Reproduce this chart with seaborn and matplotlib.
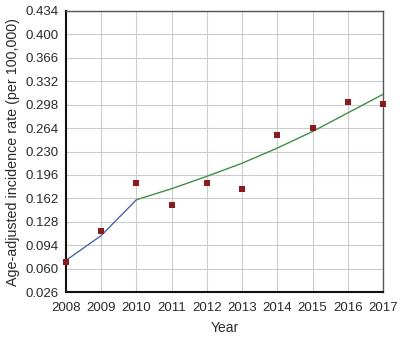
import matplotlib
matplotlib.use("Agg")
import matplotlib.pyplot as plt
import seaborn as sns
import pandas as pd

years = [2008, 2009, 2010, 2011, 2012, 2013, 2014, 2015, 2016, 2017]
observed = [0.069, 0.114, 0.185, 0.152, 0.184, 0.176, 0.254, 0.264, 0.302, 0.299]

seg1_years = [2008, 2009, 2010]
seg1_fit = [0.072, 0.108, 0.160]
seg2_years = [2010, 2011, 2012, 2013, 2014, 2015, 2016, 2017]
seg2_fit = [0.160, 0.176, 0.194, 0.213, 0.235, 0.259, 0.286, 0.313]

yticks = [0.026, 0.060, 0.094, 0.128, 0.162, 0.196, 0.230, 0.264, 0.298, 0.332, 0.366, 0.400, 0.434]

sns.set_theme(style="white")
plt.rcParams['font.family'] = ['Liberation Sans', 'DejaVu Sans']

fig = plt.figure(figsize=(4.0, 3.38), dpi=100)
ax = fig.add_axes([0.165, 0.136, 0.7925, 0.8315])

df_obs = pd.DataFrame({"Year": years, "Rate": observed})
df1 = pd.DataFrame({"Year": seg1_years, "Rate": seg1_fit})
df2 = pd.DataFrame({"Year": seg2_years, "Rate": seg2_fit})

sns.lineplot(data=df1, x="Year", y="Rate", ax=ax, color="#4f63a6", linewidth=1.0, zorder=3)
sns.lineplot(data=df2, x="Year", y="Rate", ax=ax, color="#3f8f45", linewidth=1.0, zorder=3)
sns.scatterplot(data=df_obs, x="Year", y="Rate", ax=ax, marker="s", s=22,
                color="#8b1a1f", edgecolor="#8b1a1f", linewidth=0, zorder=4, clip_on=False)

ax.set_xlim(2008, 2017)
ax.set_ylim(0.026, 0.434)
ax.set_xticks(years)
ax.set_xticklabels([str(y) for y in years])
ax.set_yticks(yticks)
ax.set_yticklabels([f"{v:.3f}" for v in yticks])
ax.grid(True, color="#cccccc", linewidth=0.8)
ax.set_axisbelow(True)

ax.tick_params(axis='both', labelsize=9.5, colors="#2a2a2a", length=0)
ax.tick_params(axis='x', pad=7)
ax.tick_params(axis='y', pad=5)
ax.set_xlabel("Year", fontsize=10, color="#2a2a2a", labelpad=5)
ax.set_ylabel("Age-adjusted incidence rate (per 100,000)", fontsize=10.3, color="#2a2a2a", labelpad=4)

for side in ['left', 'bottom']:
    ax.spines[side].set_color("#111111")
    ax.spines[side].set_linewidth(1.5)
for side in ['top', 'right']:
    ax.spines[side].set_color("#555555")
    ax.spines[side].set_linewidth(1.0)
    ax.spines[side].set_visible(True)

fig.savefig("out.png", dpi=100)
